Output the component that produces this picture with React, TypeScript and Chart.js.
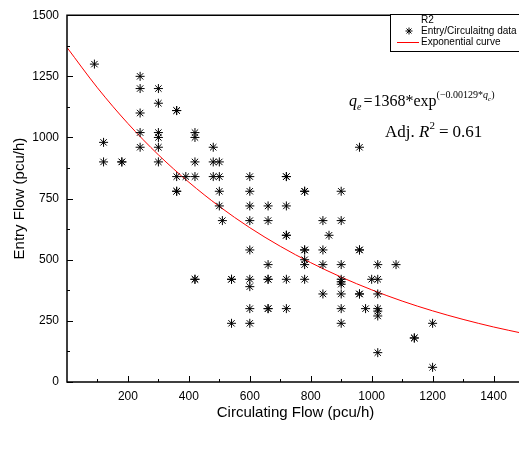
import React, { useEffect, useRef } from 'react';
import { Chart, registerables } from 'chart.js';

Chart.register(...registerables);

const circulatingFlow = [
  90,
  120, 120,
  180, 180,
  240, 240, 240, 240, 240,
  300, 300, 300, 300, 300, 300,
  360, 360, 360, 360, 360,
  390,
  420, 420, 420, 420, 420, 420,
  480, 480, 480,
  500, 500, 500, 500,
  510,
  540, 540, 540,
  600, 600, 600, 600, 600, 600, 600, 600, 600,
  660, 660, 660, 660, 660, 660, 660,
  720, 720, 720, 720, 720, 720, 720,
  780, 780, 780, 780, 780, 780, 780,
  840, 840, 840, 840,
  860,
  900, 900, 900, 900, 900, 900, 900, 900, 900,
  960, 960, 960, 960, 960,
  980,
  1000,
  1020, 1020, 1020, 1020, 1020, 1020, 1020,
  1080,
  1140, 1140,
  1200, 1200,
];
const entryFlow = [
  1300,
  980, 900,
  900, 900,
  1250, 1200, 1100, 1020, 960,
  1200, 1140, 1020, 1000, 960, 900,
  1110, 1110, 840, 780, 780,
  840,
  1020, 1000, 900, 840, 420, 420,
  960, 900, 840,
  900, 840, 780, 720,
  660,
  420, 420, 240,
  840, 780, 720, 660, 540, 420, 390, 300, 240,
  720, 660, 480, 420, 420, 300, 300,
  840, 840, 720, 600, 600, 420, 300,
  780, 780, 540, 540, 500, 480, 420,
  660, 540, 480, 360,
  600,
  780, 660, 480, 420, 410, 400, 360, 300, 240,
  960, 540, 540, 360, 360,
  300,
  420,
  480, 420, 360, 300, 290, 270, 120,
  480,
  180, 180,
  240, 60,
];

// Exponential curve
const curveX = [0, 100, 200, 300, 400, 500, 600, 700, 800, 900, 1000, 1100, 1200, 1300, 1400, 1500];
const curveY = [1368, 1203, 1057, 929, 817, 718, 631, 555, 488, 429, 377, 331, 291, 256, 225, 198];

const xTickLabels = [200, 400, 600, 800, 1000, 1200, 1400];
const yTickLabels = [0, 250, 500, 750, 1000, 1250, 1500];
const xMinorTicks = [100, 300, 500, 700, 900, 1100, 1300];
const yMinorTicks = [125, 375, 625, 875, 1125, 1375];

const SANS = 'Arial, "Liberation Sans", sans-serif';
const SERIF = '"Times New Roman", "Liberation Serif", serif';

function drawStar(ctx: CanvasRenderingContext2D, cx: number, cy: number, r: number) {
  const d = r * Math.SQRT1_2;
  ctx.beginPath();
  ctx.moveTo(cx - r, cy); ctx.lineTo(cx + r, cy);
  ctx.moveTo(cx, cy - r); ctx.lineTo(cx, cy + r);
  ctx.moveTo(cx - d, cy - d); ctx.lineTo(cx + d, cy + d);
  ctx.moveTo(cx - d, cy + d); ctx.lineTo(cx + d, cy - d);
  ctx.stroke();
}

const decorPlugin = {
  id: 'decor',
  afterDatasetsDraw(chart: any) {
    const { ctx, chartArea, scales } = chart;
    const { left, right, top, bottom } = chartArea;
    const xs = scales.x;
    const ys = scales.y;
    ctx.save();
    ctx.strokeStyle = '#000';
    ctx.lineWidth = 1.5;
    ctx.beginPath();
    ctx.moveTo(left, top);
    ctx.lineTo(left, bottom);
    ctx.lineTo(right, bottom);
    ctx.lineTo(right, top);
    ctx.closePath();
    ctx.stroke();

    ctx.lineWidth = 1;
    ctx.beginPath();
    yTickLabels.forEach((v) => {
      const py = Math.round(ys.getPixelForValue(v)) + 0.5;
      ctx.moveTo(left, py); ctx.lineTo(left + 6, py);
    });
    yMinorTicks.forEach((v) => {
      const py = Math.round(ys.getPixelForValue(v)) + 0.5;
      ctx.moveTo(left, py); ctx.lineTo(left + 3, py);
    });
    xTickLabels.forEach((v) => {
      const px = Math.round(xs.getPixelForValue(v)) + 0.5;
      ctx.moveTo(px, bottom); ctx.lineTo(px, bottom - 6);
    });
    xMinorTicks.forEach((v) => {
      const px = Math.round(xs.getPixelForValue(v)) + 0.5;
      ctx.moveTo(px, bottom); ctx.lineTo(px, bottom - 3);
    });
    ctx.stroke();

    // Legend
    const lx = 390.5;
    const ly = 14.5;
    ctx.fillStyle = '#fff';
    ctx.fillRect(lx, ly, 200, 37);
    ctx.strokeStyle = '#000';
    ctx.lineWidth = 1;
    ctx.strokeRect(lx, ly, 200, 37);
    ctx.fillStyle = '#000';
    ctx.font = `10px ${SANS}`;
    ctx.textBaseline = 'middle';
    ctx.textAlign = 'left';
    ctx.fillText('R2', 421, 20);
    ctx.fillText('Entry/Circulaitng data', 421, 31);
    ctx.fillText('Exponential curve', 421, 42);
    ctx.lineWidth = 1;
    drawStar(ctx, 409, 31, 3.5);
    ctx.strokeStyle = '#ff0000';
    ctx.beginPath();
    ctx.moveTo(397, 42.5); ctx.lineTo(419, 42.5);
    ctx.stroke();

    // Equation
    ctx.fillStyle = '#000';
    ctx.textBaseline = 'alphabetic';
    let x = 349;
    const b1 = 106;
    const put = (t: string, font: string, dy: number) => {
      ctx.font = font;
      ctx.fillText(t, x, b1 + dy);
      x += ctx.measureText(t).width;
    };
    put('q', `italic 16px ${SERIF}`, 0);
    put('e', `italic 10px ${SERIF}`, 4);
    x += 2;
    put('=', `16px ${SERIF}`, 0);
    x += 1;
    put('1368', `16px ${SERIF}`, 0);
    put('*', `16px ${SERIF}`, 0);
    put('exp', `16px ${SERIF}`, 0);
    put('(\u22120.00129*', `10px ${SERIF}`, -8);
    put('q', `italic 10px ${SERIF}`, -8);
    put('c', `italic 7px ${SERIF}`, -5);
    put(')', `10px ${SERIF}`, -8);

    x = 385;
    const b2 = 137;
    const put2 = (t: string, font: string, dy: number) => {
      ctx.font = font;
      ctx.fillText(t, x, b2 + dy);
      x += ctx.measureText(t).width;
    };
    put2('Adj. ', `17px ${SERIF}`, 0);
    put2('R', `italic 17px ${SERIF}`, 0);
    put2('2', `11px ${SERIF}`, -8);
    x += 4;
    put2('=', `17px ${SERIF}`, 0);
    x += 4;
    put2('0.61', `17px ${SERIF}`, 0);
    ctx.restore();
  },
};

export default function App() {
  const canvasRef = useRef<HTMLCanvasElement | null>(null);

  useEffect(() => {
    const canvas = canvasRef.current;
    if (!canvas) return;
    const points = circulatingFlow.map((x, i) => ({ x, y: entryFlow[i] }));
    const curve = curveX.map((x, i) => ({ x, y: curveY[i] }));
    const chart = new Chart(canvas, {
      type: 'scatter',
      data: {
        datasets: [
          {
            label: 'Entry/Circulaitng data',
            data: points,
            pointStyle: 'star',
            pointRadius: 4.5,
            borderColor: '#000',
            backgroundColor: '#000',
            borderWidth: 1,
            showLine: false,
          },
          {
            label: 'Exponential curve',
            data: curve,
            showLine: true,
            pointRadius: 0,
            borderColor: '#ff0000',
            borderWidth: 1,
            cubicInterpolationMode: 'monotone',
          } as any,
        ],
      },
      options: {
        animation: false,
        responsive: false,
        devicePixelRatio: 1,
        layout: { padding: { top: 14, left: 0, right: 56, bottom: 0 } },
        plugins: { legend: { display: false }, tooltip: { enabled: false } },
        scales: {
          x: {
            type: 'linear',
            min: 0,
            max: 1500,
            grid: { display: false, drawTicks: false },
            border: { display: false },
            afterBuildTicks: (scale: any) => {
              scale.ticks = xTickLabels.map((v) => ({ value: v }));
            },
            afterFit: (scale: any) => { scale.height = 82; },
            ticks: {
              autoSkip: false,
              maxRotation: 0,
              padding: 7,
              color: '#000',
              font: { family: SANS, size: 12 },
              callback: (v: any) => String(v),
            },
            title: {
              display: true,
              text: 'Circulating Flow (pcu/h)',
              color: '#000',
              font: { family: SANS, size: 15 },
              padding: { top: 0, bottom: 42 },
            },
          },
          y: {
            type: 'linear',
            min: 0,
            max: 1500,
            grid: { display: false, drawTicks: false },
            border: { display: false },
            afterBuildTicks: (scale: any) => {
              scale.ticks = yTickLabels.map((v) => ({ value: v }));
            },
            afterFit: (scale: any) => { scale.width = 67; },
            ticks: {
              autoSkip: false,
              padding: 8,
              color: '#000',
              font: { family: SANS, size: 12 },
              callback: (v: any) => String(v),
            },
            title: {
              display: true,
              text: 'Entry Flow (pcu/h)',
              color: '#000',
              font: { family: SANS, size: 15 },
              padding: { top: 11, bottom: 0 },
            },
          },
        },
      },
      plugins: [decorPlugin],
    });
    return () => chart.destroy();
  }, []);

  return (
    <div style={{ position: 'fixed', left: 0, top: 0, width: 519, height: 464, overflow: 'hidden', background: '#fff' }}>
      <canvas ref={canvasRef} width={580} height={464} style={{ display: 'block' }} />
    </div>
  );
}
